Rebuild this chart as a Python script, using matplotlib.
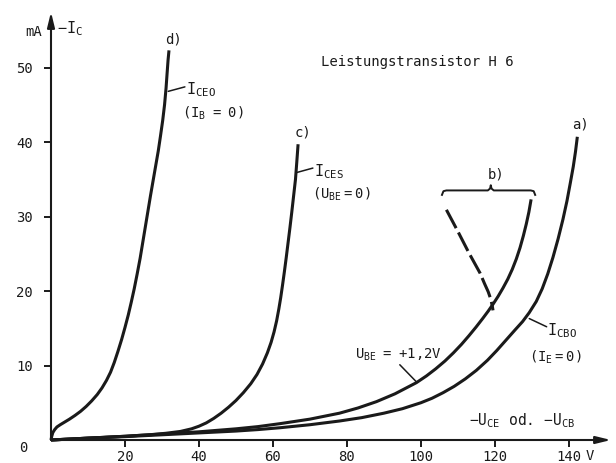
import numpy as np
import matplotlib
matplotlib.use("Agg")
import matplotlib.pyplot as plt

plt.rcParams['font.family'] = ['DejaVu Sans Mono', 'DejaVu Sans']
plt.rcParams['mathtext.fontset'] = 'custom'
plt.rcParams['mathtext.rm'] = 'DejaVu Sans Mono'
plt.rcParams['mathtext.default'] = 'rm'

# Kennlinien Leistungstransistor H6 (Spannung in V, Strom in mA), aus dem Bild abgelesen
# a) I_CBO (I_E = 0)
u_a = [0, 10, 20, 30, 40, 50, 56, 62, 70, 78, 84, 90, 95, 100, 103, 106, 109, 112, 115, 118, 120.5,
       123, 125.5, 127.5, 129.3, 131.2, 132.8, 134.3, 135.7, 137.1, 138.4, 139.5, 140.4, 141.2, 141.8, 142.3]
i_a = [0, 0.25, 0.45, 0.7, 0.95, 1.2, 1.4, 1.65, 2.05, 2.55, 3.0, 3.6, 4.2, 5.0, 5.6, 6.35, 7.2, 8.2, 9.35, 10.7, 12.0,
       13.4, 14.8, 15.9, 17.1, 18.6, 20.3, 22.3, 24.5, 27.0, 29.6, 32.1, 34.5, 36.7, 38.7, 40.7]

# b) U_BE = +1,2 V
u_b = [0, 10, 20, 30, 40, 50, 56, 62, 70, 78, 83, 88, 93, 98.8, 101.5, 104, 106.5, 108.8, 111, 113,
       114.9, 116.7, 118.2, 119.6, 120.9, 122.2, 123.5, 124.7, 125.8, 126.8, 127.7, 128.5, 129.2, 129.8]
i_b = [0, 0.25, 0.5, 0.8, 1.1, 1.5, 1.8, 2.2, 2.8, 3.6, 4.3, 5.15, 6.2, 7.7, 8.6, 9.55, 10.6, 11.7, 12.85, 14.0,
       15.15, 16.3, 17.3, 18.3, 19.3, 20.4, 21.6, 22.9, 24.3, 25.8, 27.4, 29.0, 30.6, 32.3]

# b) gestrichelter Ast
u_b2 = [106.9, 110, 113, 116.0, 117.2, 118.2, 118.9, 119.3, 119.5]
i_b2 = [30.9, 28.0, 25.1, 22.4, 21.0, 19.9, 18.9, 18.0, 17.4]

# c) I_CES (U_BE = 0)
u_c = [0, 10, 20, 27, 31, 35, 38, 40, 42, 44, 46, 48, 50, 52, 54, 55.7, 57.2, 58.5, 59.5, 60.3, 61.0,
       61.6, 62.1, 62.6, 63.1, 63.6, 64.1, 64.6, 65.1, 65.6, 66.1, 66.45, 66.8]
i_c = [0, 0.25, 0.5, 0.72, 0.9, 1.15, 1.5, 1.85, 2.3, 2.9, 3.6, 4.4, 5.3, 6.35, 7.55, 8.8, 10.2, 11.7, 13.1, 14.5, 16.0,
       17.6, 19.1, 20.8, 22.6, 24.5, 26.5, 28.5, 30.6, 32.8, 35.0, 37.3, 39.7]

# d) I_CEO (I_B = 0)
u_d = [0, 0.2, 0.5, 1.0, 1.6, 2.5, 3.5, 5.0, 6.5, 8.0, 9.5, 11.0, 12.5, 13.8, 15.0, 16.1, 17.1, 18.1, 19.1,
       20.0, 20.9, 21.7, 22.5, 23.3, 24.1, 24.8, 25.5, 26.2, 26.9, 27.6, 28.3, 29.0, 29.6, 30.2, 30.7, 31.1,
       31.4, 31.65, 31.9]
i_d = [0, 0.5, 1.0, 1.4, 1.75, 2.05, 2.35, 2.8, 3.3, 3.85, 4.5, 5.25, 6.1, 7.0, 8.0, 9.1, 10.4, 11.9, 13.5,
       15.1, 16.8, 18.5, 20.3, 22.3, 24.4, 26.5, 28.6, 30.7, 32.8, 34.8, 36.8, 38.8, 40.8, 42.9, 45.0, 47.2,
       49.3, 51.0, 52.3]

x_ticks = [20, 40, 60, 80, 100, 120, 140]
y_ticks = [10, 20, 30, 40, 50]

k = '#1a1a1a'
lw = 2.2

fig = plt.figure(figsize=(6.16, 4.63), dpi=100)
ax = fig.add_axes([51/616, 23/463, 560/616, 428/463])
ax.set_xlim(0, 151.4)
ax.set_ylim(0, 57.45)
for s in ax.spines.values():
    s.set_visible(False)

# Achsen mit Pfeilen
ap = dict(arrowstyle='-|>,head_length=0.9,head_width=0.22', lw=1.5, color=k, shrinkA=0, shrinkB=0)
ax.annotate('', xy=(151.4, 0), xytext=(0, 0), arrowprops=ap, annotation_clip=False)
ax.annotate('', xy=(0, 57.45), xytext=(0, 0), arrowprops=ap, annotation_clip=False)

ax.xaxis.set_ticks_position('bottom')
ax.yaxis.set_ticks_position('left')
ax.set_xticks(x_ticks)
ax.set_yticks(y_ticks)
ax.tick_params(direction='out', length=5, width=1.4, color=k, labelsize=10, labelcolor=k)
ax.tick_params(axis='x', pad=2)
ax.tick_params(axis='y', pad=8)
ax.text(145.6, -2.1, 'V', fontsize=10, color=k, ha='center', va='center', clip_on=False)
ax.text(-7.6, -1.07, '0', fontsize=10, color=k, ha='center', va='center', clip_on=False)

# Kurven
for u, i in [(u_a, i_a), (u_b, i_b), (u_c, i_c), (u_d, i_d)]:
    ax.plot(u, i, color=k, lw=lw, solid_capstyle='butt', solid_joinstyle='round', clip_on=False)
ax.plot(u_b2, i_b2, color=k, lw=lw, dashes=(6.8, 1.6), clip_on=False)

# geschweifte Klammer fuer b)
b_left, b_right, b_mid, b_lev = 105.7, 130.9, 118.9, 33.5
bx = [b_left, b_left + 0.4, b_left + 1.2, b_mid - 0.8, b_mid - 0.2, b_mid, b_mid + 0.2, b_mid + 0.8, b_right - 1.2, b_right - 0.4, b_right]
by = [b_lev - 0.6, b_lev - 0.1, b_lev, b_lev, b_lev + 0.25, b_lev + 0.7, b_lev + 0.25, b_lev, b_lev, b_lev - 0.1, b_lev - 0.6]
ax.plot(bx, by, color=k, lw=1.4)

# Beschriftungen
fs = 10
lead = dict(arrowstyle='-', lw=1.1, color=k, shrinkA=0, shrinkB=0)
ax.text(-2.4, 54.8, 'mA', fontsize=fs, color=k, ha='right', va='center', clip_on=False)
ax.text(1.6, 55.2, '$-I_C$', fontsize=fs + 1, color=k, ha='left', va='center')
ax.text(73, 50.7, 'Leistungstransistor H 6', fontsize=fs, color=k, ha='left', va='center')

ax.text(33.0, 53.8, 'd)', fontsize=fs, color=k, ha='center', va='center')
ax.text(36.6, 47.0, '$I_{CEO}$', fontsize=fs + 1, color=k, ha='left', va='center')
ax.text(35.4, 43.8, '$(I_B\\ =\\ 0)$', fontsize=fs, color=k, ha='left', va='center')
ax.annotate('', xy=(31.7, 46.8), xytext=(36.2, 47.4), arrowprops=lead)

ax.text(68.1, 41.3, 'c)', fontsize=fs, color=k, ha='center', va='center')
ax.text(71.2, 36.0, '$I_{CES}$', fontsize=fs + 1, color=k, ha='left', va='center')
ax.text(70.5, 33.0, '$(U_{BE}{=}0)$', fontsize=fs, color=k, ha='left', va='center')
ax.annotate('', xy=(66.4, 35.9), xytext=(70.8, 36.5), arrowprops=lead)

ax.text(120.3, 35.6, 'b)', fontsize=fs, color=k, ha='center', va='center')
ax.text(143.2, 42.3, 'a)', fontsize=fs, color=k, ha='center', va='center')

ax.text(134.1, 14.7, '$I_{CBO}$', fontsize=fs + 1, color=k, ha='left', va='center')
ax.text(129.2, 11.1, '$(I_E{=}0)$', fontsize=fs, color=k, ha='left', va='center')
ax.annotate('', xy=(129.3, 16.3), xytext=(134.0, 15.2), arrowprops=lead)

ax.text(82.2, 11.4, '$U_{BE}\\ =\\ {+}1{,}2V$', fontsize=fs, color=k, ha='left', va='center')
ax.annotate('', xy=(98.8, 7.8), xytext=(94.3, 10.1), arrowprops=lead)

ax.text(113, 2.6, '$-U_{CE}$ od. $-U_{CB}$', fontsize=fs + 0.5, color=k, ha='left', va='center')

fig.savefig('out.png', dpi=100)
